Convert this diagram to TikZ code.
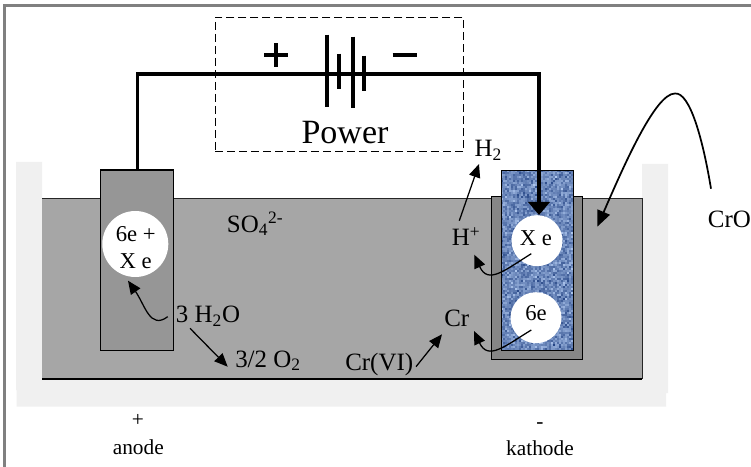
\documentclass[tikz,border=0pt]{standalone}
\usepackage{fontspec}
\setmainfont{Liberation Serif}
\usetikzlibrary{arrows.meta}
\definecolor{liq}{HTML}{A6A6A6}
\definecolor{tank}{HTML}{F0F0F0}
\definecolor{frameg}{HTML}{808080}
\definecolor{anodeg}{HTML}{969696}
\definecolor{sheath}{HTML}{868686}
\definecolor{blued}{HTML}{1F3F80}
\definecolor{bluel}{HTML}{B4CCF2}
\tikzset{x=0.75pt,y=-0.75pt,
 lbl/.style={font=\fontsize{18.7}{20}\selectfont,inner sep=0pt,anchor=base},
 hlbl/.style={font=\fontsize{17}{20}\selectfont,inner sep=0pt,anchor=base},
 small/.style={font=\fontsize{16}{18}\selectfont,inner sep=0pt,anchor=base},
 wire/.style={line width=2.4pt,black},
 batt/.style={line width=3pt,black},
 thin arrow/.style={line width=0.95pt,black,-{Triangle[length=10pt,width=8.5pt]}},
 thick arrow/.style={line width=1.3pt,black,-{Triangle[length=12pt,width=10pt]}},
 hole/.style={circle,fill=white,inner sep=0pt},
 plate/.style={draw=black,line width=0.95pt,inner sep=0pt,anchor=north west}}
\begin{document}
\begin{tikzpicture}
\pgfmathsetseed{7}
\useasboundingbox (0,0) rectangle (751,467);
\fill[white] (0,0) rectangle (751,467);
% outer frame
\draw[frameg,line width=2.1pt] (4.5,467) -- (4.5,5.3) -- (751,5.3);
% tank
\fill[tank] (16,162) -- (42,162) -- (42,379) -- (642,379) -- (642,164) -- (668,164) -- (668,393) -- (666,393) -- (666,406.5) -- (16.5,406.5) -- (16.5,390) -- (16,390) -- cycle;
\fill[liq] (42,198) rectangle (642,379);
\draw[black!85,line width=0.7pt] (42,198) -- (642,198) -- (642,379);
\draw[black,line width=0.95pt] (42,379) -- (642,379);
% anode
\node[plate,fill=anodeg,minimum width=72.7*0.75pt,minimum height=180.7*0.75pt] (anode) at (100,169.3) {};
% kathode sheath
\node[plate,fill=sheath,minimum width=90.7*0.75pt,minimum height=163*0.75pt] (sheathbox) at (491,196) {};
% kathode texture
\begin{scope}
\clip (500.7,170) rectangle (573,350);
\foreach \i in {0,...,36}{
  \foreach \j in {0,...,90}{
    \pgfmathtruncatemacro{\mixv}{min(100,(rnd+rnd+rnd)*33+(mod(\i+\j,3)==0)*8)}
    \fill[bluel!\mixv!blued] ({500.7+\i*2},{170+\j*2}) rectangle +(2.2,2.2);
  }
}
\end{scope}
\node[plate,line width=1.1pt,minimum width=72.3*0.75pt,minimum height=180*0.75pt] (kathode) at (500.7,170) {};
% holes
\node[hole,minimum width=66*0.75pt] (h1) at (135.3,244) {};
\node[hole,minimum width=51*0.75pt] (h2) at (537,240.7) {};
\node[hole,minimum width=51*0.75pt] (h3) at (536,317.7) {};
\node[hlbl] (t1a) at (135.7,242) {6e +};
\node[hlbl] (t1b) at (135.7,268.3) {X e};
\node[hlbl] (t2) at (536,245) {X e};
\node[hlbl] (t3) at (536,320.7) {6e};
% power box
\node[draw=black,dash pattern=on 6pt off 3pt,line width=0.75pt,minimum width=248.3*0.75pt,minimum height=134.6*0.75pt,inner sep=0pt,anchor=north west] (power) at (214.7,16.7) {};
% wire
\coordinate (w1) at (137.7,74);
\coordinate (w2) at (539,74);
\coordinate (wtip) at (539,215);
\draw[wire,line join=miter] (anode.north -| w1) -- (w1) -- (w2) -- (539,204);
\fill[black] (528,202) -- (550,202) -- (wtip) -- cycle;
% battery
\draw[batt] (327.3,34.7) -- (327.3,106.7);
\draw[batt] (338.7,53.7) -- (338.7,89.3);
\draw[batt] (352.7,36.7) -- (352.7,108.3);
\draw[batt] (364,55.7) -- (364,91);
\draw[batt] (264,55) -- (288,55);
\draw[batt] (276,43.3) -- (276,67.3);
\draw[batt] (392.7,55) -- (416.7,55);
\node[font=\fontsize{25.5}{28}\selectfont,inner sep=0pt,anchor=base] (pw) at (345,144) {Power};
% labels
\node[lbl,anchor=base west] (so) at (226.7,232.3) {SO\textsubscript{4}\textsuperscript{2-}};
\node[lbl,anchor=base west] (h2t) at (474.3,156.7) {H\textsubscript{2}};
\node[lbl,anchor=base west] (hp) at (451.7,245.7) {H\textsuperscript{+}};
\node[lbl,anchor=base west] (cr) at (444,326.7) {Cr};
\node[lbl,anchor=base west] (crvi) at (345,370) {Cr(VI)};
\node[lbl,anchor=base west] (wat) at (175.7,322.7) {3 H\textsubscript{2}O};
\node[lbl,anchor=base west] (ox) at (235,367) {3/2 O\textsubscript{2}};
\node[lbl,anchor=base west] (cro) at (707.7,227.7) {CrO};
\node[small] (plus) at (138,426) {+};
\node[small] (an) at (138.3,454) {anode};
\node[small] (minus) at (540,428) {-};
\node[small] (ka) at (540,455) {kathode};
% arrow ends
\coordinate (a1s) at (459.3,220.7); \coordinate (a1e) at (479,164);
\coordinate (a2s) at (531.3,253.7); \coordinate (a2e) at (474.3,254.7);
\coordinate (a3s) at (531.3,330);   \coordinate (a3e) at (474,331);
\coordinate (a4s) at (711,188.7);   \coordinate (a4e) at (597.3,226.7);
\coordinate (a5s) at (190,328.3);   \coordinate (a5e) at (227.7,366.7);
\coordinate (a6s) at (167.7,316.7); \coordinate (a6e) at (128,280.7);
\coordinate (a7s) at (416,366.7);   \coordinate (a7e) at (442,334.3);
% arrows
\draw[thin arrow] (a1s) -- (a1e);
\draw[thin arrow] (a2s) .. controls (505,270) and (488,285) .. (a2e);
\draw[thin arrow] (a3s) .. controls (505,346) and (488,361) .. (a3e);
\draw[thick arrow] (a4s) .. controls (703,140) and (690,92) .. (675,93.5) .. controls (655,93) and (622,170) .. (a4e);
\draw[thin arrow] (a5s) -- (a5e);
\draw[thin arrow] (a6s) .. controls (150,330) and (145,305) .. (a6e);
\draw[thin arrow] (a7s) -- (a7e);
\end{tikzpicture}
\end{document}
